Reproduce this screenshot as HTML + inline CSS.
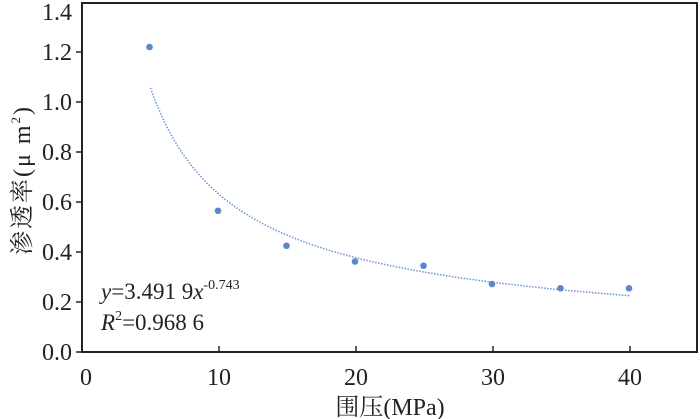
<!DOCTYPE html>
<html><head><meta charset="utf-8"><style>
html,body{margin:0;padding:0;background:#fff;}
svg{display:block;}
svg text{font-family:"Liberation Serif","Times New Roman",Times,"Noto Serif CJK SC",serif;fill:#222;}
</style></head><body>
<svg id="s" width="700" height="419" viewBox="0 0 700 419" xmlns="http://www.w3.org/2000/svg" font-family="Liberation Serif, Times New Roman, serif">
<rect x="82" y="3" width="615" height="349" fill="none" stroke="#222" stroke-width="2"/>
<g stroke="#222" stroke-width="1.5">
<line x1="76" y1="352" x2="82" y2="352"/><line x1="76" y1="302" x2="82" y2="302"/><line x1="76" y1="252" x2="82" y2="252"/><line x1="76" y1="202" x2="82" y2="202"/><line x1="76" y1="152" x2="82" y2="152"/><line x1="76" y1="102" x2="82" y2="102"/><line x1="76" y1="52" x2="82" y2="52"/>
<line x1="219" y1="352" x2="219" y2="346"/><line x1="356" y1="352" x2="356" y2="346"/><line x1="493" y1="352" x2="493" y2="346"/><line x1="630" y1="352" x2="630" y2="346"/>
</g>
<g font-size="24" text-anchor="end">
<text x="72" y="360">0.0</text><text x="72" y="310">0.2</text><text x="72" y="260">0.4</text><text x="72" y="210">0.6</text><text x="72" y="160">0.8</text><text x="72" y="110">1.0</text><text x="72" y="60">1.2</text><text x="72" y="20">1.4</text>
</g>
<g font-size="24" text-anchor="middle">
<text x="86" y="385">0</text><text x="219" y="385">10</text><text x="356" y="385">20</text><text x="493" y="385">30</text><text x="630" y="385">40</text>
<text x="390" y="415">围压(MPa)</text>
</g>
<text transform="translate(30,180) rotate(-90)" font-size="24" text-anchor="middle" letter-spacing="2">渗透率(μ m<tspan font-size="13" dy="-10">2</tspan><tspan dy="10">)</tspan></text>
<text x="101" y="299" font-size="23"><tspan font-style="italic">y</tspan>=3.491 9<tspan font-style="italic">x</tspan><tspan font-size="14" dy="-10">-0.743</tspan></text>
<text x="101" y="330" font-size="23"><tspan font-style="italic">R</tspan><tspan font-size="14" dy="-10">2</tspan><tspan dy="10">=0.968 6</tspan></text>
<path id="c" fill="none" stroke="#6b93d6" stroke-width="1.5" stroke-dasharray="1.5 1.5" d=""/>
<g fill="#5b86c9" id="pts"></g>
</svg>
<script>
var X=function(v){return 82+v*13.7},Y=function(v){return 352-v*250};
var d="";for(var x=5;x<=40.001;x+=0.25){var y=3.4919*Math.pow(x,-0.743);d+=(d?"L":"M")+X(x).toFixed(1)+" "+Y(y).toFixed(1);}
document.getElementById("c").setAttribute("d",d);
var p=[[5,1.22],[10,0.565],[15,0.425],[20,0.362],[25,0.345],[30,0.272],[35,0.255],[40,0.255]],g=document.getElementById("pts"),h="";
p.forEach(function(a){h+='<circle cx="'+(X(a[0])-1)+'" cy="'+Y(a[1])+'" r="3.3"/>';});
g.innerHTML=h;
</script>
</body></html>
